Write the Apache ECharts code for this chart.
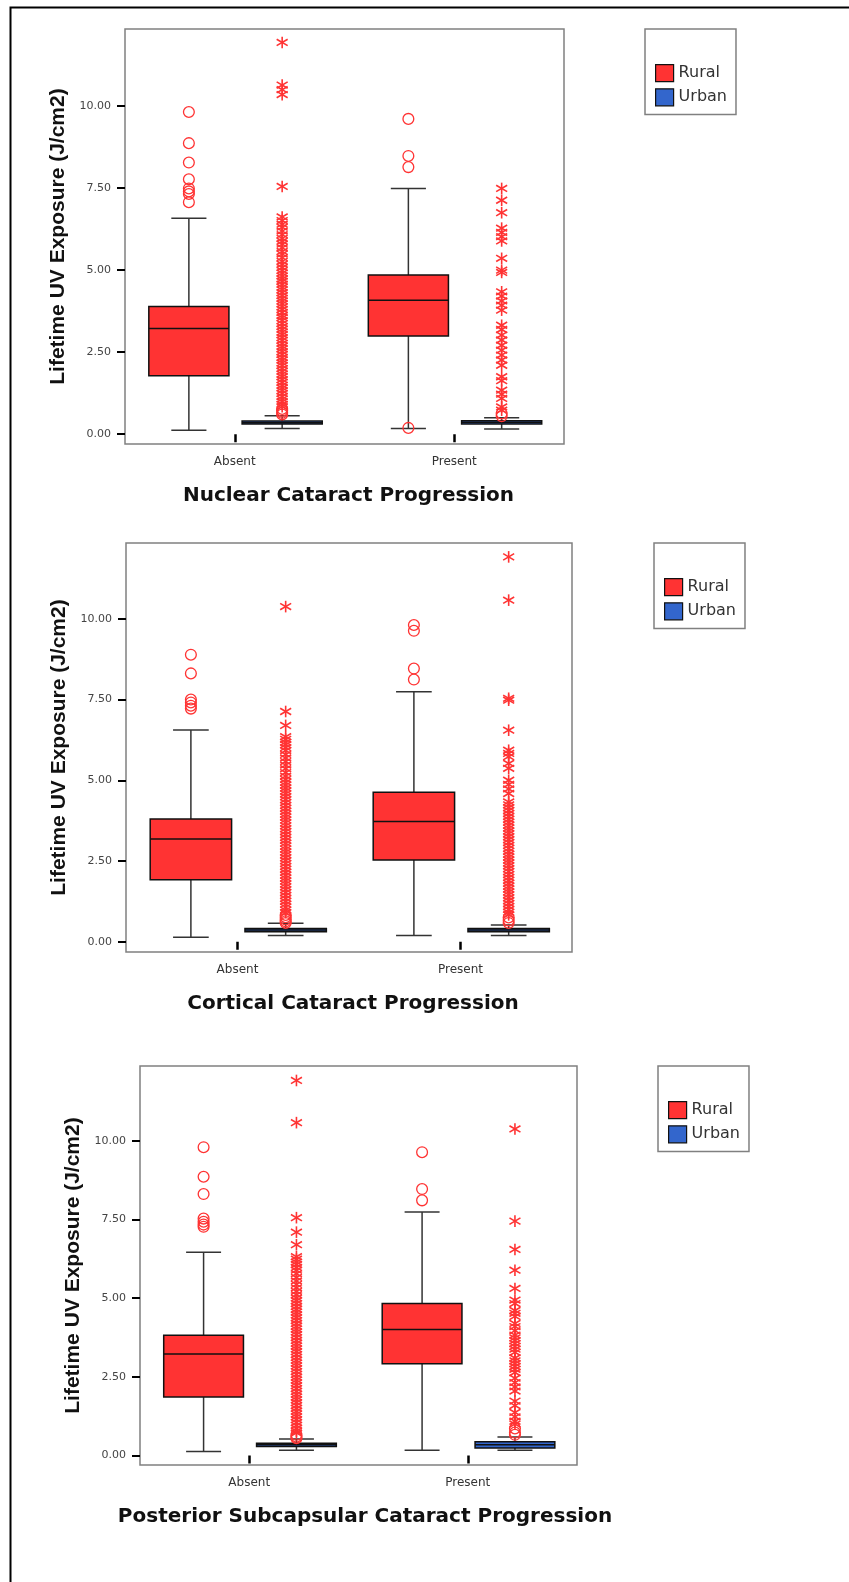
<!DOCTYPE html>
<html>
<head>
<meta charset="utf-8">
<script src="https://cdn.jsdelivr.net/npm/echarts@6/dist/echarts.min.js"></script>
<style>
html,body{margin:0;padding:0;background:#fff;}
#chart{width:849px;height:1582px;}
</style>
</head>
<body>
<div id="chart"></div>
<script>
// ---------------- DATA ----------------
const categories = ['Absent', 'Present'];
const groupNames = ['Rural', 'Urban'];
const yTickValues = [0, 2.5, 5, 7.5, 10];
const yAxisTitle = 'Lifetime UV Exposure (J/cm2)';
const panelTitles = ['Nuclear Cataract Progression', 'Cortical Cataract Progression', 'Posterior Subcapsular Cataract Progression'];

// box stats: [min, Q1, median, Q3, max] for [Absent, Present]
const nuclearRuralBox = [[0.12, 1.78, 3.22, 3.89, 6.58], [0.17, 2.99, 4.08, 4.85, 7.49]];
const nuclearUrbanBox = [[0.17, 0.31, 0.35, 0.40, 0.56], [0.16, 0.31, 0.36, 0.41, 0.50]];
const corticalRuralBox = [[0.14, 1.92, 3.18, 3.80, 6.56], [0.19, 2.53, 3.72, 4.63, 7.74]];
const corticalUrbanBox = [[0.19, 0.31, 0.36, 0.41, 0.57], [0.19, 0.31, 0.36, 0.41, 0.52]];
const pscRuralBox = [[0.13, 1.86, 3.23, 3.82, 6.46], [0.17, 2.92, 4.01, 4.83, 7.74]];
const pscUrbanBox = [[0.17, 0.29, 0.34, 0.39, 0.53], [0.17, 0.24, 0.34, 0.44, 0.59]];

// Rural outliers (circles)
const nuclearRuralOutAbsent = [9.82, 8.87, 8.28, 7.77, 7.49, 7.40, 7.32, 7.07];
const nuclearRuralOutPresent = [9.61, 8.48, 8.14, 0.19];
const corticalRuralOutAbsent = [8.89, 8.31, 7.50, 7.41, 7.31, 7.22];
const corticalRuralOutPresent = [9.81, 9.63, 8.46, 8.12];
const pscRuralOutAbsent = [9.80, 8.86, 8.31, 7.53, 7.43, 7.34, 7.27];
const pscRuralOutPresent = [9.64, 8.47, 8.11];

// Urban extremes (asterisks)
const nuclearUrbanExtAbsent = [11.94, 10.64, 10.50, 10.35, 7.55, 6.62, 6.51, 6.40, 6.31, 6.19, 6.08, 5.97, 5.88, 5.79, 5.68, 5.57, 5.49, 5.38, 5.27, 5.18, 5.08, 4.99, 4.91, 4.82, 4.73, 4.66, 4.57, 4.48, 4.40, 4.31, 4.22, 4.14, 4.06, 3.97, 3.88, 3.80, 3.71, 3.62, 3.55, 3.46, 3.37, 3.28, 3.20, 3.11, 3.03, 2.94, 2.86, 2.77, 2.68, 2.60, 2.51, 2.43, 2.34, 2.26, 2.17, 2.09, 2.00, 1.92, 1.83, 1.75, 1.66, 1.58, 1.49, 1.41, 1.32, 1.24, 1.15, 1.07, 0.99, 0.91, 0.84];
const nuclearUrbanExtPresent = [7.49, 7.13, 6.75, 6.28, 6.15, 6.02, 5.89, 5.36, 5.00, 4.93, 4.34, 4.21, 4.06, 3.93, 3.78, 3.32, 3.19, 3.02, 2.87, 2.71, 2.56, 2.41, 2.26, 2.10, 1.75, 1.63, 1.34, 1.22, 1.09, 0.83, 0.73];
const corticalUrbanExtAbsent = [10.38, 7.13, 6.70, 6.35, 6.27, 6.18, 6.10, 6.01, 5.92, 5.80, 5.69, 5.58, 5.47, 5.36, 5.24, 5.13, 5.03, 4.94, 4.85, 4.76, 4.67, 4.58, 4.49, 4.40, 4.31, 4.22, 4.13, 4.04, 3.95, 3.86, 3.77, 3.68, 3.59, 3.50, 3.41, 3.32, 3.23, 3.14, 3.05, 2.96, 2.87, 2.78, 2.69, 2.60, 2.51, 2.42, 2.33, 2.24, 2.15, 2.06, 1.97, 1.88, 1.79, 1.70, 1.61, 1.52, 1.43, 1.34, 1.25, 1.16, 1.07, 0.98, 0.90];
const corticalUrbanExtPresent = [11.92, 10.58, 7.54, 7.48, 6.55, 5.93, 5.83, 5.73, 5.52, 5.37, 5.00, 4.87, 4.73, 4.59, 4.33, 4.24, 4.15, 4.06, 3.97, 3.88, 3.79, 3.70, 3.61, 3.52, 3.43, 3.34, 3.25, 3.16, 3.07, 2.98, 2.89, 2.80, 2.71, 2.62, 2.53, 2.44, 2.35, 2.26, 2.17, 2.08, 1.99, 1.90, 1.81, 1.72, 1.63, 1.54, 1.45, 1.36, 1.27, 1.18, 1.09, 1.00, 0.91, 0.83];
const pscUrbanExtAbsent = [11.92, 10.58, 7.56, 7.10, 6.70, 6.32, 6.24, 6.15, 6.07, 5.98, 5.89, 5.78, 5.66, 5.55, 5.44, 5.33, 5.22, 5.11, 5.01, 4.92, 4.83, 4.74, 4.65, 4.56, 4.47, 4.38, 4.29, 4.20, 4.11, 4.02, 3.93, 3.84, 3.75, 3.66, 3.57, 3.48, 3.39, 3.30, 3.21, 3.12, 3.03, 2.94, 2.85, 2.76, 2.67, 2.58, 2.49, 2.40, 2.31, 2.22, 2.13, 2.04, 1.95, 1.86, 1.77, 1.68, 1.59, 1.50, 1.41, 1.32, 1.23, 1.14, 1.05, 0.96, 0.87, 0.78, 0.72];
const pscUrbanExtPresent = [10.38, 7.45, 6.55, 5.89, 5.31, 4.94, 4.83, 4.61, 4.52, 4.42, 4.20, 4.10, 3.97, 3.83, 3.74, 3.65, 3.56, 3.47, 3.38, 3.28, 3.10, 3.01, 2.92, 2.83, 2.74, 2.64, 2.46, 2.32, 2.18, 2.05, 1.73, 1.59, 1.37, 1.23, 1.09, 1.00];

// Urban mild outliers (circles)
const nuclearUrbanOutAbsent = [0.77, 0.71, 0.65, 0.60];
const nuclearUrbanOutPresent = [0.63, 0.55];
const corticalUrbanOutAbsent = [0.83, 0.76, 0.69, 0.63, 0.58];
const corticalUrbanOutPresent = [0.75, 0.66, 0.58];
const pscUrbanOutAbsent = [0.66, 0.60, 0.55];
const pscUrbanOutPresent = [0.86, 0.73, 0.66];

// ---------------- BUILD ----------------
const RURAL_COLOR = '#ff3333';
const URBAN_COLOR = '#3366cc';
const OUT_COLOR = '#ff3333';

const panels = [
  {title: panelTitles[0], ruralBox: nuclearRuralBox, urbanBox: nuclearUrbanBox,
   ruralOut: [nuclearRuralOutAbsent, nuclearRuralOutPresent], urbanExt: [nuclearUrbanExtAbsent, nuclearUrbanExtPresent], urbanOut: [nuclearUrbanOutAbsent, nuclearUrbanOutPresent],
   grid: {left: 125, top: 29, width: 439, height: 415}, yMin: -0.30, yMax: 12.35,
   legend: {left: 645, top: 29}, titlePad: 8},
  {title: panelTitles[1], ruralBox: corticalRuralBox, urbanBox: corticalUrbanBox,
   ruralOut: [corticalRuralOutAbsent, corticalRuralOutPresent], urbanExt: [corticalUrbanExtAbsent, corticalUrbanExtPresent], urbanOut: [corticalUrbanOutAbsent, corticalUrbanOutPresent],
   grid: {left: 126, top: 543, width: 446, height: 409}, yMin: -0.32, yMax: 12.35,
   legend: {left: 654, top: 543}, titlePad: 8},
  {title: panelTitles[2], ruralBox: pscRuralBox, urbanBox: pscUrbanBox,
   ruralOut: [pscRuralOutAbsent, pscRuralOutPresent], urbanExt: [pscUrbanExtAbsent, pscUrbanExtPresent], urbanOut: [pscUrbanOutAbsent, pscUrbanOutPresent],
   grid: {left: 140, top: 1066, width: 437, height: 399}, yMin: -0.30, yMax: 12.38,
   legend: {left: 658, top: 1066}, titlePad: 13}
];

const RURAL_OFF = -0.209;
const URBAN_OFF = 0.216;
const BOX_W = 0.365;

function boxRenderer(offsetFrac, fill) {
  return function (params, api) {
    const cat = api.value(0);
    const band = api.size([1, 0])[0];
    const pMin = api.coord([cat, api.value(1)]);
    const pQ1 = api.coord([cat, api.value(2)]);
    const pMed = api.coord([cat, api.value(3)]);
    const pQ3 = api.coord([cat, api.value(4)]);
    const pMax = api.coord([cat, api.value(5)]);
    const cx = pMin[0] + band * offsetFrac;
    const hw = band * BOX_W / 2;
    const cw = band * 0.08;
    const ws = {stroke: '#333', lineWidth: 1.5};
    return {type: 'group', children: [
      {type: 'line', shape: {x1: cx, y1: pMax[1], x2: cx, y2: pQ3[1]}, style: ws},
      {type: 'line', shape: {x1: cx, y1: pQ1[1], x2: cx, y2: pMin[1]}, style: ws},
      {type: 'line', shape: {x1: cx - cw, y1: pMax[1], x2: cx + cw, y2: pMax[1]}, style: ws},
      {type: 'line', shape: {x1: cx - cw, y1: pMin[1], x2: cx + cw, y2: pMin[1]}, style: ws},
      {type: 'rect', shape: {x: cx - hw, y: pQ3[1], width: 2 * hw, height: pQ1[1] - pQ3[1]}, style: {fill: fill, stroke: '#111', lineWidth: 1.5}},
      {type: 'line', shape: {x1: cx - hw, y1: pMed[1], x2: cx + hw, y2: pMed[1]}, style: {stroke: '#111', lineWidth: 1.5}}
    ]};
  };
}

function outlierRenderer(offsetFrac, kind) {
  return function (params, api) {
    const band = api.size([1, 0])[0];
    const p = api.coord([api.value(0), api.value(1)]);
    const cx = p[0] + band * offsetFrac, cy = p[1];
    if (kind === 'circle') {
      return {type: 'circle', shape: {cx: cx, cy: cy, r: 5.4}, style: {stroke: OUT_COLOR, lineWidth: 1.3, fill: 'none'}};
    }
    const st = {stroke: OUT_COLOR, lineWidth: 1.6, fill: 'none'};
    const h = 5.8, dx = 5.5, dy = 3.2;
    return {type: 'group', children: [
      {type: 'line', shape: {x1: cx, y1: cy - h, x2: cx, y2: cy + h}, style: st},
      {type: 'line', shape: {x1: cx - dx, y1: cy - dy, x2: cx + dx, y2: cy + dy}, style: st},
      {type: 'line', shape: {x1: cx - dx, y1: cy + dy, x2: cx + dx, y2: cy - dy}, style: st}
    ]};
  };
}

function toPoints(lists) {
  const out = [];
  lists.forEach(function (list, ci) { list.forEach(function (v) { out.push([ci, v]); }); });
  return out;
}

const grids = [], xAxes = [], yAxes = [], series = [], legends = [];

panels.forEach(function (pn, i) {
  grids.push({left: pn.grid.left, top: pn.grid.top, width: pn.grid.width, height: pn.grid.height,
    show: true, borderColor: '#808080', borderWidth: 1.5, backgroundColor: 'transparent'});
  xAxes.push({type: 'category', gridIndex: i, data: categories,
    axisLine: {show: false},
    axisTick: {show: true, alignWithLabel: true, length: 8, lineStyle: {color: '#000', width: 2.5}},
    axisLabel: {margin: 12, fontFamily: 'DejaVu Sans', fontSize: 12, color: '#333'},
    splitLine: {show: false},
    name: pn.title, nameLocation: 'middle', nameGap: 42,
    nameTextStyle: {fontFamily: 'DejaVu Sans', fontWeight: 'bold', fontSize: 20, color: '#111', padding: [0, 0, 0, pn.titlePad]}
  });
  yAxes.push({type: 'value', gridIndex: i, min: pn.yMin, max: pn.yMax,
    axisLine: {show: false},
    axisTick: {show: true, length: 8, customValues: yTickValues, lineStyle: {color: '#000', width: 2}},
    axisLabel: {margin: 14, customValues: yTickValues, fontFamily: 'DejaVu Sans', fontSize: 11, color: '#444',
      formatter: function (v) { return Number(v).toFixed(2); }},
    splitLine: {show: false},
    name: yAxisTitle, nameLocation: 'middle', nameGap: 56,
    nameTextStyle: {fontFamily: 'Liberation Sans', fontWeight: 'bold', fontSize: 21, color: '#111'}
  });
  const ruralData = pn.ruralBox.map(function (b, ci) { return [ci].concat(b); });
  const urbanData = pn.urbanBox.map(function (b, ci) { return [ci].concat(b); });
  series.push({type: 'custom', name: groupNames[0], xAxisIndex: i, yAxisIndex: i, coordinateSystem: 'cartesian2d',
    itemStyle: {color: RURAL_COLOR}, encode: {x: 0, y: [1, 2, 3, 4, 5]}, data: ruralData, renderItem: boxRenderer(RURAL_OFF, RURAL_COLOR), z: 2});
  series.push({type: 'custom', name: groupNames[1], xAxisIndex: i, yAxisIndex: i, coordinateSystem: 'cartesian2d',
    itemStyle: {color: URBAN_COLOR}, encode: {x: 0, y: [1, 2, 3, 4, 5]}, data: urbanData, renderItem: boxRenderer(URBAN_OFF, URBAN_COLOR), z: 2});
  series.push({type: 'custom', name: 'Rural outliers ' + (i + 1), xAxisIndex: i, yAxisIndex: i, coordinateSystem: 'cartesian2d',
    encode: {x: 0, y: 1}, data: toPoints(pn.ruralOut), renderItem: outlierRenderer(RURAL_OFF, 'circle'), z: 3});
  series.push({type: 'custom', name: 'Urban extremes ' + (i + 1), xAxisIndex: i, yAxisIndex: i, coordinateSystem: 'cartesian2d',
    encode: {x: 0, y: 1}, data: toPoints(pn.urbanExt), renderItem: outlierRenderer(URBAN_OFF, 'star'), z: 3});
  series.push({type: 'custom', name: 'Urban outliers ' + (i + 1), xAxisIndex: i, yAxisIndex: i, coordinateSystem: 'cartesian2d',
    encode: {x: 0, y: 1}, data: toPoints(pn.urbanOut), renderItem: outlierRenderer(URBAN_OFF, 'circle'), z: 3});
  legends.push({left: pn.legend.left, top: pn.legend.top, orient: 'vertical', icon: 'rect',
    itemWidth: 18, itemHeight: 17, itemGap: 6, padding: [35, 9, 8, 10],
    borderColor: '#808080', borderWidth: 1.5, backgroundColor: '#fff', selectedMode: false,
    textStyle: {fontFamily: 'DejaVu Sans', fontSize: 16, color: '#333'},
    data: [
      {name: groupNames[0], itemStyle: {color: RURAL_COLOR, borderColor: '#111', borderWidth: 1.2}},
      {name: groupNames[1], itemStyle: {color: URBAN_COLOR, borderColor: '#111', borderWidth: 1.2}}
    ]});
});

const chart = echarts.init(document.getElementById('chart'));
chart.setOption({
  animation: false,
  backgroundColor: '#fff',
  graphic: [{type: 'rect', left: 8, top: 5, shape: {x: 0, y: 0, width: 860, height: 1600},
    style: {fill: 'none', stroke: '#000', lineWidth: 2}, silent: true, z: 100}],
  grid: grids,
  xAxis: xAxes,
  yAxis: yAxes,
  legend: legends,
  series: series
});
</script>
</body>
</html>
